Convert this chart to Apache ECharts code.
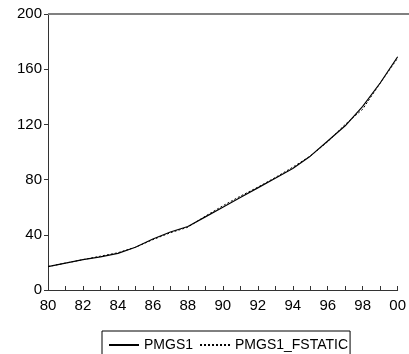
<!DOCTYPE html>
<html><head><meta charset="utf-8">
<script src="https://cdn.jsdelivr.net/npm/echarts@6/dist/echarts.min.js"></script>
<style>html,body{margin:0;padding:0;background:#fff}#c{width:409px;height:354px}</style>
</head><body><div id="c"></div>
<script>
var years = ['80','81','82','83','84','85','86','87','88','89','90','91','92','93','94','95','96','97','98','99','00'];
var pmgs1 = [17,19.5,22,24,26.5,31,37,42,46,53,60,67,74,81,88,97,108,119,133,150,169];
var pmgs1Fstatic = [17,19.5,22,24.5,27,31,36.5,41.5,45.5,53.5,61,68,74.5,81.5,89,97,107.5,120,131,150,168];
var yTicks = [0,40,80,120,160,200];

var chart = echarts.init(document.getElementById('c'));
var font = 'Liberation Sans, Arial, sans-serif';
chart.setOption({
  animation: false,
  grid: {left: 48, right: 11, top: 14, bottom: 64},
  xAxis: {
    type: 'category', data: years, boundaryGap: false,
    axisLine: {lineStyle: {color: '#333', width: 1}},
    axisTick: {inside: true, length: 4, interval: 0, lineStyle: {color: '#333'}},
    axisLabel: {interval: 1, color: '#000', fontFamily: font, fontSize: 15, margin: 8},
    splitLine: {show: false}
  },
  yAxis: {
    type: 'value', min: yTicks[0], max: yTicks[yTicks.length-1], interval: 40,
    axisLine: {show: true, lineStyle: {color: '#333', width: 1}},
    axisTick: {show: true, length: 4, lineStyle: {color: '#333'}},
    axisLabel: {color: '#000', fontFamily: font, fontSize: 15, margin: 6},
    splitLine: {show: false}
  },
  graphic: [{type: 'line', shape: {x1: 48, y1: 14, x2: 409, y2: 14}, style: {stroke: '#808080', lineWidth: 2}, z: 10}],
  legend: {
    left: 102, top: 331, padding: [7, 2, 14, 6], itemWidth: 30, itemHeight: 10, itemGap: 6,
    borderColor: '#000', borderWidth: 1, borderRadius: 0,
    itemStyle: {color: 'transparent', borderWidth: 0, opacity: 0},
    textStyle: {color: '#000', fontFamily: font, fontSize: 14},
    data: ['PMGS1', 'PMGS1_FSTATIC']
  },
  series: [
    {name: 'PMGS1', type: 'line', data: pmgs1, showSymbol: false, symbol: 'none', lineStyle: {color: '#000', width: 1.2}, itemStyle: {color: '#000'}},
    {name: 'PMGS1_FSTATIC', type: 'line', data: pmgs1Fstatic, showSymbol: false, symbol: 'none', lineStyle: {color: '#000', width: 1, type: [2, 2]}, itemStyle: {color: '#000'}}
  ]
});
</script></body></html>
